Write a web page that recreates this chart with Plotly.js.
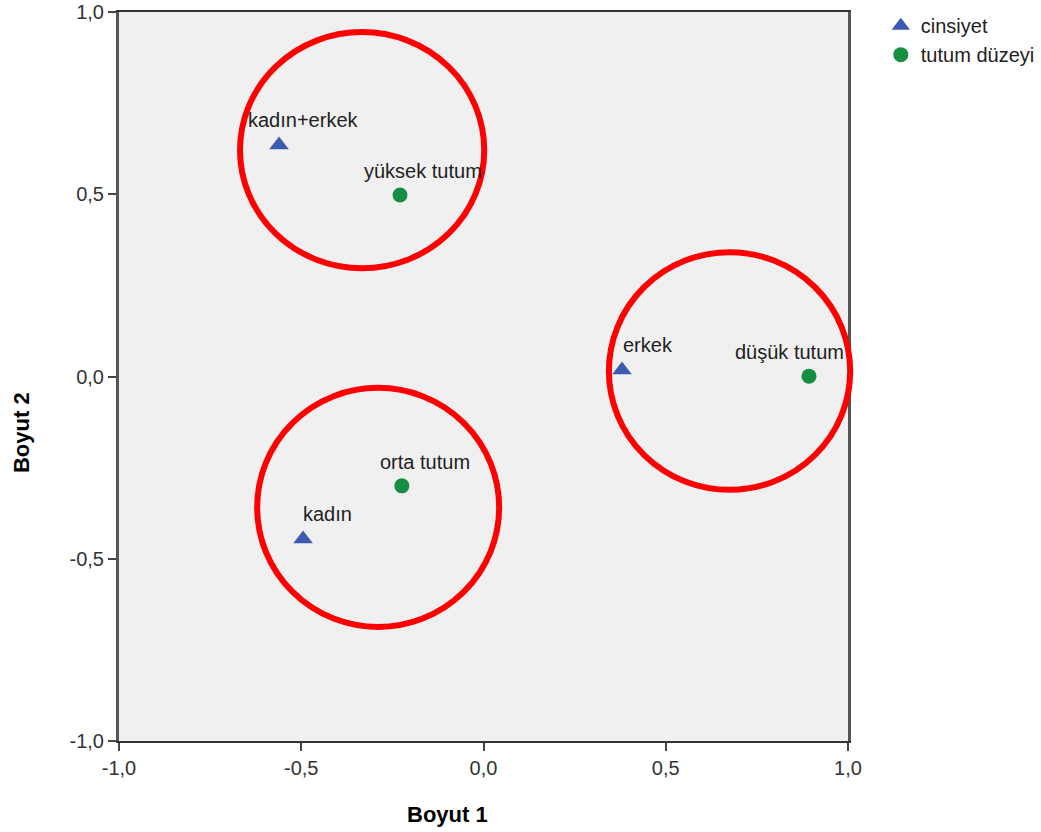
<!DOCTYPE html>
<html>
<head>
<meta charset="utf-8">
<script src="https://cdn.plot.ly/plotly-3.0.1.min.js"></script>
<style>html,body{margin:0;padding:0;background:#fff;}</style>
</head>
<body>
<div id="chart" style="width:1041px;height:832px;"></div>
<script>
// Data
const cinsiyetLabels = ["kadın+erkek", "erkek", "kadın"];
const cinsiyetX = [-0.561, 0.380, -0.495];
const cinsiyetY = [0.635, 0.018, -0.446];
const tutumLabels = ["yüksek tutum", "düşük tutum", "orta tutum"];
const tutumX = [-0.229, 0.893, -0.224];
const tutumY = [0.498, 0.001, -0.300];
const tickVals = [-1, -0.5, 0, 0.5, 1];
const tickText = ["-1,0", "-0,5", "0,0", "0,5", "1,0"];
// Highlight circles (centre and radii in data units)
const circleCX = [-0.333, 0.675, -0.289];
const circleCY = [0.621, 0.015, -0.359];
const circleRX = [0.335, 0.331, 0.332];
const circleRY = [0.324, 0.326, 0.328];

// Label pixel offsets (style)
const cinsiyetShiftX = [24, 26, 24];
const tutumShiftX = [23, -20, 23];

const range = [-1, 1];
const toPaper = v => (v - range[0]) / (range[1] - range[0]);

const traces = [
  {x: cinsiyetX, y: cinsiyetY, name: "cinsiyet", mode: "markers", type: "scatter",
   marker: {symbol: "triangle-up", size: 17, color: "#3d5ab2"}, hoverinfo: "none"},
  {x: tutumX, y: tutumY, name: "tutum düzeyi", mode: "markers", type: "scatter",
   marker: {symbol: "circle", size: 15, color: "#168f42"}, hoverinfo: "none"}
];

const annotations = [];
cinsiyetLabels.forEach((t, i) => annotations.push({x: cinsiyetX[i], y: cinsiyetY[i], text: t, showarrow: false,
  xshift: cinsiyetShiftX[i], yshift: 25, font: {size: 20, color: "#222"}}));
tutumLabels.forEach((t, i) => annotations.push({x: tutumX[i], y: tutumY[i], text: t, showarrow: false,
  xshift: tutumShiftX[i], yshift: 24, font: {size: 20, color: "#222"}}));
annotations.push({xref: "paper", yref: "paper", x: 0.451, y: -0.1015, xanchor: "center", yanchor: "middle",
  text: "<b>Boyut 1</b>", showarrow: false, font: {size: 22, color: "#000"}});
annotations.push({xref: "paper", yref: "paper", x: -0.133, y: 0.4225, xanchor: "center", yanchor: "middle",
  text: "<b>Boyut 2</b>", showarrow: false, textangle: -90, font: {size: 22, color: "#000"}});

const shapes = circleCX.map((c, i) => ({
  type: "circle", xref: "paper", yref: "paper", layer: "above",
  x0: toPaper(c - circleRX[i]), x1: toPaper(c + circleRX[i]),
  y0: toPaper(circleCY[i] - circleRY[i]), y1: toPaper(circleCY[i] + circleRY[i]),
  line: {color: "#ff0000", width: 6}
}));

const layout = {
  width: 1041, height: 832,
  margin: {l: 119, r: 193, t: 12, b: 91, autoexpand: false},
  paper_bgcolor: "#ffffff", plot_bgcolor: "#f0f0f0",
  font: {family: "Liberation Sans, Arial, sans-serif", size: 20, color: "#222"},
  showlegend: true,
  legend: {x: 1.045, y: 1.008, xanchor: "left", yanchor: "top", bgcolor: "rgba(0,0,0,0)",
    font: {size: 20, color: "#222"}, tracegroupgap: 0, itemwidth: 30},
  xaxis: {range: range, tickvals: tickVals, ticktext: tickText, ticks: "outside", ticklen: 8, tickwidth: 2,
    tickcolor: "#444", showgrid: false, zeroline: false, showline: true, linecolor: "#333", linewidth: 2,
    mirror: true, tickfont: {size: 20, color: "#333"}},
  yaxis: {range: range, tickvals: tickVals, ticktext: tickText, ticks: "outside", ticklen: 8, tickwidth: 2,
    tickcolor: "#444", showgrid: false, zeroline: false, showline: true, linecolor: "#555", linewidth: 3,
    mirror: true, tickfont: {size: 20, color: "#333"}},
  annotations: annotations,
  shapes: shapes
};

Plotly.newPlot("chart", traces, layout, {displayModeBar: false, staticPlot: true});
</script>
</body>
</html>
